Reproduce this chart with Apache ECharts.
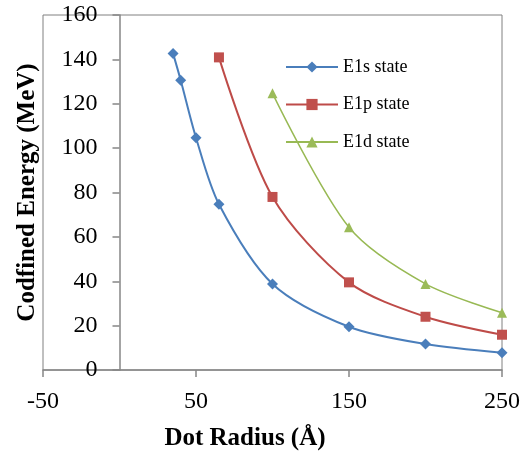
<!DOCTYPE html>
<html>
<head>
<meta charset="utf-8">
<script src="https://cdn.jsdelivr.net/npm/echarts@6/dist/echarts.min.js"></script>
<style>html,body{margin:0;padding:0;background:#fff;}#c{width:524px;height:455px;}</style>
</head>
<body>
<div id="c"></div>
<script>
var radiiS = [35, 40, 50, 65, 100, 150, 200, 250];
var e1s = [142.7, 130.6, 104.7, 74.7, 38.8, 19.5, 11.7, 7.8];
var radiiP = [65, 100, 150, 200, 250];
var e1p = [140.9, 78.0, 39.5, 24.0, 15.9];
var radiiD = [100, 150, 200, 250];
var e1d = [124.7, 64.3, 38.8, 25.8];
var seriesNames = ['E1s state', 'E1p state', 'E1d state'];
var xTitle = 'Dot Radius (Å)';
var yTitle = 'Codfined Energy (MeV)';

function pairs(xs, ys) { return xs.map(function (x, i) { return [x, ys[i]]; }); }

var font = 'Liberation Serif';
var axisColor = '#868686';
var xMin = -50, xMax = 250;
var gridLeft = 43, gridRight = 22;
var plotW = 524 - gridLeft - gridRight;
var yAxisShift = -(0 - xMin) / (xMax - xMin) * plotW;

var chart = echarts.init(document.getElementById('c'));
chart.setOption({
  animation: false,
  backgroundColor: '#fff',
  grid: { left: gridLeft, right: gridRight, top: 15, bottom: 85, show: true, borderColor: '#808080', borderWidth: 1, containLabel: false, outerBoundsMode: 'none' },
  legend: {
    orient: 'vertical', left: 280, top: 53, itemWidth: 52, itemHeight: 14, itemGap: 19.5,
    textStyle: { fontFamily: font, fontSize: 18, color: '#000' },
    data: seriesNames
  },
  xAxis: {
    type: 'value', min: xMin, max: xMax, interval: 100,
    name: xTitle, nameLocation: 'middle', nameGap: 56,
    nameTextStyle: { fontFamily: font, fontSize: 25, fontWeight: 'bold', color: '#000', padding: [0, 55, 0, 0] },
    axisLine: { show: true, onZero: false, lineStyle: { color: axisColor, width: 1.5 } },
    axisTick: { show: true, length: 7, lineStyle: { color: axisColor, width: 1.5 } },
    axisLabel: { fontFamily: font, fontSize: 24, color: '#000', margin: 20 },
    splitLine: { show: false }
  },
  yAxis: {
    type: 'value', min: 0, max: 160, interval: 20, offset: yAxisShift,
    name: yTitle, nameLocation: 'middle', nameGap: 79,
    nameTextStyle: { fontFamily: font, fontSize: 25, fontWeight: 'bold', color: '#000' },
    axisLine: { show: true, onZero: false, lineStyle: { color: axisColor, width: 1.5 } },
    axisTick: { show: true, length: 7, lineStyle: { color: axisColor, width: 1.5 } },
    axisLabel: { fontFamily: font, fontSize: 24, color: '#000', margin: 22 },
    splitLine: { show: false }
  },
  series: [
    { name: seriesNames[0], type: 'line', data: pairs(radiiS, e1s), smooth: 0.3,
      symbol: 'diamond', symbolSize: 11, itemStyle: { color: '#4a7ebb' }, lineStyle: { color: '#4a7ebb', width: 2 } },
    { name: seriesNames[1], type: 'line', data: pairs(radiiP, e1p), smooth: 0.3,
      symbol: 'rect', symbolSize: 10, itemStyle: { color: '#c0504d' }, lineStyle: { color: '#be4b48', width: 2 } },
    { name: seriesNames[2], type: 'line', data: pairs(radiiD, e1d), smooth: 0.3,
      symbol: 'triangle', symbolSize: 10, itemStyle: { color: '#9bbb59' }, lineStyle: { color: '#98b954', width: 1.5 } }
  ]
});
</script>
</body>
</html>
